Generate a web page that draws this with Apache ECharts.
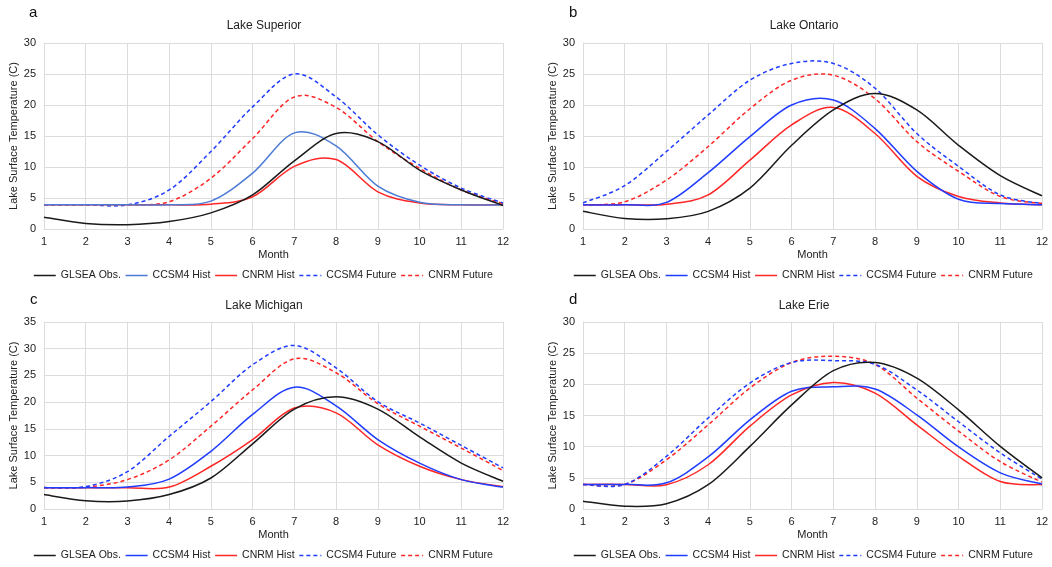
<!DOCTYPE html>
<html>
<head>
<meta charset="utf-8">
<script src="https://cdn.jsdelivr.net/npm/echarts@6/dist/echarts.min.js"></script>
<style>
  html, body { margin: 0; padding: 0; background: #fff; }
  #chart { width: 1052px; height: 567px; }
</style>
</head>
<body>
<div id="chart"></div>
<script>
// Monthly mean lake surface temperature (°C), months 1..12
const months = [1, 2, 3, 4, 5, 6, 7, 8, 9, 10, 11, 12];
const seriesNames = ['GLSEA Obs.', 'CCSM4 Hist', 'CNRM Hist', 'CCSM4 Future', 'CNRM Future'];
const lakeTitles = ['Lake Superior', 'Lake Ontario', 'Lake Michigan', 'Lake Erie'];
const panelLetters = ['a', 'b', 'c', 'd'];
const yMaxima = [30, 30, 35, 30];

// Lake Superior
const superiorObs        = [1.9, 0.9, 0.7, 1.2, 2.6, 5.5, 11.0, 15.4, 14.1, 9.5, 6.3, 3.8];
const superiorCcsm4Hist  = [3.9, 3.9, 3.9, 3.9, 4.5, 9.0, 15.5, 13.4, 6.9, 4.3, 3.9, 3.9];
const superiorCnrmHist   = [3.9, 3.9, 3.9, 3.9, 4.0, 5.2, 10.1, 11.2, 6.0, 4.2, 3.9, 3.9];
const superiorCcsm4Fut   = [3.9, 3.9, 3.9, 6.3, 12.5, 19.7, 25.0, 21.3, 15.2, 10.3, 6.6, 4.2];
const superiorCnrmFut    = [3.9, 3.9, 3.9, 4.4, 8.2, 14.6, 21.3, 19.6, 14.1, 9.8, 6.3, 4.1];

// Lake Ontario
const ontarioObs         = [2.85, 1.7, 1.65, 2.85, 6.6, 13.5, 19.2, 21.85, 19.2, 13.5, 8.6, 5.35];
const ontarioCcsm4Hist   = [3.9, 3.9, 4.3, 9.1, 14.9, 20.0, 20.8, 16.2, 9.3, 4.8, 4.1, 3.9];
const ontarioCnrmHist    = [3.9, 3.9, 4.0, 5.5, 11.1, 16.8, 19.6, 15.4, 8.5, 5.25, 4.2, 3.9];
const ontarioCcsm4Fut    = [4.2, 7.0, 12.5, 18.4, 24.0, 26.7, 26.7, 22.7, 15.4, 10.1, 5.5, 4.1];
const ontarioCnrmFut     = [3.9, 4.4, 7.9, 13.3, 19.4, 24.0, 24.8, 21.0, 14.1, 9.3, 5.25, 4.1];

// Lake Michigan
const michiganObs        = [2.7, 1.55, 1.5, 2.7, 5.8, 12.2, 18.7, 21.0, 18.7, 13.5, 8.6, 5.2];
const michiganCcsm4Hist  = [4.0, 4.0, 4.1, 5.6, 10.8, 17.7, 22.8, 19.3, 13.0, 8.6, 5.5, 4.1];
const michiganCnrmHist   = [4.0, 4.0, 4.0, 4.1, 8.0, 13.0, 18.9, 18.0, 12.0, 8.0, 5.5, 4.2];
const michiganCcsm4Fut   = [4.0, 4.2, 7.0, 13.6, 20.1, 27.0, 30.6, 26.4, 20.1, 16.1, 11.9, 7.7];
const michiganCnrmFut    = [4.0, 4.1, 5.5, 9.2, 15.5, 22.3, 28.1, 25.5, 19.7, 15.5, 11.4, 7.2];

// Lake Erie
const erieObs            = [1.25, 0.45, 0.85, 3.9, 10.05, 16.7, 22.2, 23.5, 21.0, 15.9, 10.05, 5.0];
const erieCcsm4Hist      = [3.95, 3.95, 4.2, 8.35, 14.3, 18.9, 19.6, 19.25, 15.1, 9.95, 5.8, 4.0];
const erieCnrmHist       = [3.95, 3.95, 3.9, 7.1, 13.3, 18.3, 20.3, 18.6, 13.5, 8.45, 4.4, 3.9];
const erieCcsm4Fut       = [3.95, 3.95, 8.45, 14.6, 20.2, 23.5, 23.8, 23.2, 19.1, 14.0, 9.0, 4.8];
const erieCnrmFut        = [3.95, 3.95, 7.9, 13.5, 19.4, 23.5, 24.5, 23.2, 17.8, 12.5, 7.6, 4.3];

const lakeData = [
  [superiorObs, superiorCcsm4Hist, superiorCnrmHist, superiorCcsm4Fut, superiorCnrmFut],
  [ontarioObs, ontarioCcsm4Hist, ontarioCnrmHist, ontarioCcsm4Fut, ontarioCnrmFut],
  [michiganObs, michiganCcsm4Hist, michiganCnrmHist, michiganCcsm4Fut, michiganCnrmFut],
  [erieObs, erieCcsm4Hist, erieCnrmHist, erieCcsm4Fut, erieCnrmFut]
];

const FONT = 'Liberation Sans, Arial, Helvetica, sans-serif';
const BLACK = '#1a1a1a';
const BLUE = '#1f3cff';
const LIGHT_BLUE = '#4c7ad6';
const RED = '#ff2626';
const GRID_COLOR = '#dcdcdc';
const DASH = [4, 3];

function lineColors(panel) {
  return [BLACK, panel === 0 ? LIGHT_BLUE : BLUE, RED, BLUE, RED];
}
const lineTypes = ['solid', 'solid', 'solid', 'dashed', 'dashed'];

// Panel plot rectangles (margins in px)
const grids = [
  { left: 44, top: 43, right: 549, bottom: 338 },
  { left: 583, top: 43, right: 10, bottom: 338 },
  { left: 44, top: 322, right: 549, bottom: 58 },
  { left: 583, top: 322, right: 10, bottom: 58 }
];
const titlePos = [
  { x: 259, y: 15 }, { x: 799, y: 15 }, { x: 259, y: 295 }, { x: 799, y: 295 }
];
const letterPos = [
  { x: 24, y: 0 }, { x: 564, y: 0 }, { x: 25, y: 287 }, { x: 564, y: 287 }
];
const legendPos = [
  { x: 33, y: 270 }, { x: 573, y: 270 }, { x: 33, y: 550 }, { x: 573, y: 550 }
];

// Smooth curve through the points (uniform Catmull-Rom, as cubic Béziers)
function smoothPath(pts) {
  let d = 'M' + pts[0][0] + ',' + pts[0][1];
  for (let i = 0; i < pts.length - 1; i++) {
    const p0 = pts[Math.max(i - 1, 0)];
    const p1 = pts[i];
    const p2 = pts[i + 1];
    const p3 = pts[Math.min(i + 2, pts.length - 1)];
    const c1x = p1[0] + (p2[0] - p0[0]) / 6;
    const c1y = p1[1] + (p2[1] - p0[1]) / 6;
    const c2x = p2[0] - (p3[0] - p1[0]) / 6;
    const c2y = p2[1] - (p3[1] - p1[1]) / 6;
    d += ' C' + c1x + ',' + c1y + ' ' + c2x + ',' + c2y + ' ' + p2[0] + ',' + p2[1];
  }
  return d;
}

const titles = [];
const xAxes = [];
const yAxes = [];
const legends = [];
const series = [];
const curves = [];

for (let p = 0; p < 4; p++) {
  titles.push({
    text: lakeTitles[p],
    left: titlePos[p].x, top: titlePos[p].y,
    textAlign: 'center',
    textStyle: { fontFamily: FONT, fontSize: 12, fontWeight: 'normal', color: '#222' }
  });
  titles.push({
    text: panelLetters[p],
    left: letterPos[p].x, top: letterPos[p].y,
    textStyle: { fontFamily: FONT, fontSize: 15, fontWeight: 'normal', color: '#111' }
  });

  xAxes.push({
    gridIndex: p,
    type: 'value',
    min: 1, max: 12, interval: 1,
    name: 'Month',
    nameLocation: 'middle',
    nameGap: 20,
    nameTextStyle: { fontFamily: FONT, fontSize: 11, color: '#222' },
    axisLine: { show: true, lineStyle: { color: GRID_COLOR } },
    axisTick: { show: false },
    axisLabel: { fontFamily: FONT, fontSize: 11, color: '#222', margin: 7 },
    splitLine: { show: true, lineStyle: { color: GRID_COLOR, width: 1 } }
  });
  yAxes.push({
    gridIndex: p,
    type: 'value',
    min: 0, max: yMaxima[p], interval: 5,
    name: 'Lake Surface Temperature (C)',
    nameLocation: 'middle',
    nameGap: 18,
    nameTextStyle: { fontFamily: FONT, fontSize: 11, color: '#222' },
    axisLine: { show: true, lineStyle: { color: GRID_COLOR } },
    axisTick: { show: false },
    axisLabel: { fontFamily: FONT, fontSize: 11, color: '#222', margin: 8 },
    splitLine: { show: true, lineStyle: { color: GRID_COLOR, width: 1 } }
  });

  const colors = lineColors(p);
  legends.push({
    left: legendPos[p].x, top: legendPos[p].y,
    width: 520,
    orient: 'horizontal',
    itemWidth: 22, itemHeight: 12, itemGap: 4,
    selectedMode: false,
    padding: 0,
    textStyle: { fontFamily: FONT, fontSize: 10.5, color: '#222' },
    data: seriesNames.map((n, i) => ({
      name: n,
      lineStyle: { color: colors[i], type: lineTypes[i] === 'dashed' ? DASH : 'solid', width: 1.5, opacity: 1 },
      // only the line sample is shown, no point marker
      itemStyle: { color: colors[i], opacity: 0, borderWidth: 0 }
    }))
  });

  lakeData[p].forEach((vals, i) => {
    const pairs = months.map((m, k) => [m, vals[k]]);
    // named line series: carries the data and the legend entry
    series.push({
      name: seriesNames[i],
      type: 'line',
      xAxisIndex: p, yAxisIndex: p,
      data: pairs,
      showSymbol: false,
      symbol: 'none',
      lineStyle: { color: colors[i], width: 1.5, opacity: 0 },
      itemStyle: { color: colors[i] },
      silent: true,
      animation: false
    });
    // visible smoothed curve through the same monthly values
    curves.push({
      type: 'custom',
      xAxisIndex: p, yAxisIndex: p,
      data: pairs,
      encode: { x: 0, y: 1 },
      z: 10 - i,
      silent: true,
      animation: false,
      clip: false,
      renderItem: function (params, api) {
        if (params.dataIndex !== 0) return null;
        const pts = pairs.map(v => api.coord(v));
        return {
          type: 'path',
          shape: { pathData: smoothPath(pts) },
          style: {
            fill: 'none',
            stroke: colors[i],
            lineWidth: 1.5,
            lineDash: lineTypes[i] === 'dashed' ? DASH : null
          }
        };
      }
    });
  });
}

const chart = echarts.init(document.getElementById('chart'), null, { renderer: 'canvas' });
chart.setOption({
  backgroundColor: '#ffffff',
  animation: false,
  title: titles,
  grid: grids,
  xAxis: xAxes,
  yAxis: yAxes,
  legend: legends,
  series: series.concat(curves)
});
</script>
</body>
</html>
